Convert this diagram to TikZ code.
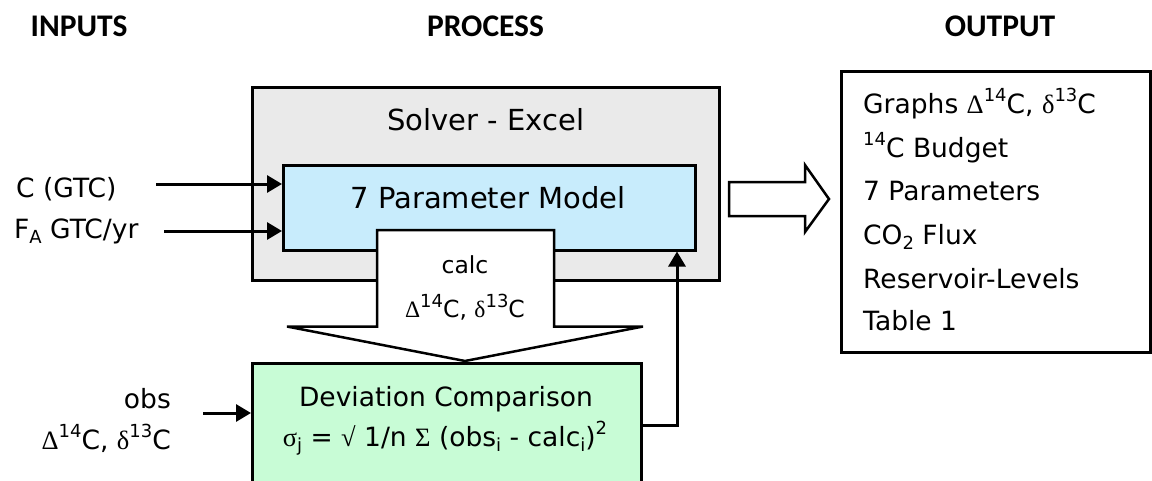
\documentclass[tikz,border=0pt]{standalone}
\usepackage{fontspec}
\setmainfont{DejaVu Sans}
\newfontfamily\headfont{Carlito}
\newfontfamily\gk{Liberation Serif}
\usetikzlibrary{arrows.meta}

\definecolor{shellgray}{HTML}{EAEAEA}
\definecolor{modelblue}{HTML}{C8ECFC}
\definecolor{devgreen}{HTML}{C8FCD6}

% raised and lowered indices in the running font
\newcommand\supx[1]{\raisebox{0.42em}{\fontsize{18}{18}\selectfont #1}}
\newcommand\subx[1]{\raisebox{-0.22em}{\fontsize{18}{18}\selectfont #1}}
\newcommand\iso{{\gk Δ}\supx{14}C, {\gk δ}\supx{13}C}

\tikzset{
  txt/.style={inner sep=0pt, font=\fontsize{26.5}{30}\selectfont},
  big/.style={inner sep=0pt, font=\fontsize{29}{33}\selectfont},
  small/.style={inner sep=0pt, font=\fontsize{23.5}{28}\selectfont},
  head/.style={inner sep=0pt, font=\headfont\bfseries\fontsize{31.5}{34}\selectfont},
  frame/.style={draw=black, line width=2.5pt, inner sep=0pt, anchor=north west},
  flow/.style={line width=3pt, -{Triangle[length=15pt,width=17pt]}},
  block/.style={draw=black, line width=2.5pt, fill=white, line join=miter},
}

\begin{document}
\begin{tikzpicture}[x=1pt,y=-1pt]
\useasboundingbox (0,0) rectangle (1152,480);

% column headings
\node[head, anchor=base] (hIn)   at (79,36)    {INPUTS};
\node[head, anchor=base] (hProc) at (485.5,36) {PROCESS};
\node[head, anchor=base] (hOut)  at (1000,36)  {OUTPUT};

% solver frame and model box
\node[frame, fill=shellgray, minimum width=467pt, minimum height=193pt] (solver) at (251,86) {};
\node[big, anchor=base] (solverLbl) at (486,130) {Solver - Excel};
\node[frame, fill=modelblue, minimum width=412pt, minimum height=85pt] (model) at (282,164) {};
\node[big, anchor=base] (modelLbl) at (488,208) {7 Parameter Model};

% deviation comparison box (runs off the lower edge)
\node[frame, fill=devgreen, minimum width=389pt, minimum height=130pt] (dev) at (251,362) {};
\node[txt, anchor=base] (devLbl) at (446,406) {Deviation Comparison};
\node[txt, anchor=base] (devEq) at (445,446)
  {{\gk σ}\subx{j} = {\gk √} 1/n {\gk Σ} (obs\subx{i} - calc\subx{i})\supx{2}};

% block arrow carrying the calculated values down
\draw[block] (377,230) -- (554,230) -- (554,326.5) -- (643,326.5) -- (465,361)
  -- (287,326.5) -- (377,326.5) -- cycle;
\node[small, anchor=base] (calcLbl) at (465,273) {calc};
\node[small, anchor=base] (calcIso) at (465,317) {\iso};

% block arrow towards the results
\draw[block] (729,182) -- (805,182) -- (805,165) -- (829,199) -- (805,232)
  -- (805,216) -- (729,216) -- cycle;

% results box
\node[frame, fill=white, minimum width=309pt, minimum height=281pt] (out) at (840,70) {};
\node[txt, anchor=base west] (o1) at (863,113) {Graphs \iso};
\node[txt, anchor=base west] (o2) at (863,157) {\supx{14}C Budget};
\node[txt, anchor=base west] (o3) at (863,200) {7 Parameters};
\node[txt, anchor=base west] (o4) at (863,244) {CO\subx{2} Flux};
\node[txt, anchor=base west] (o5) at (863,288) {Reservoir-Levels};
\node[txt, anchor=base west] (o6) at (863,330) {Table 1};

% inputs
\node[txt, anchor=base west] (inC) at (16,197) {C (GTC)};
\node[txt, anchor=base west] (inF) at (14,238) {F\subx{A} GTC/yr};
\coordinate (cStart) at (156,184);
\coordinate (fStart) at (164,231);
\draw[flow] (cStart) -- (model.west |- cStart);
\draw[flow] (fStart) -- (model.west |- fStart);

\node[txt, anchor=base east] (obsLbl) at (171,408) {obs};
\node[txt, anchor=base east] (obsIso) at (171,449) {\iso};
\coordinate (obsStart) at (203,413);
\draw[flow] (obsStart) -- (dev.west |- obsStart);

% feedback loop to the model
\coordinate (fb) at (677,425);
\draw[flow] (dev.east |- fb) -- (fb) -- (model.south -| fb);
\end{tikzpicture}
\end{document}
